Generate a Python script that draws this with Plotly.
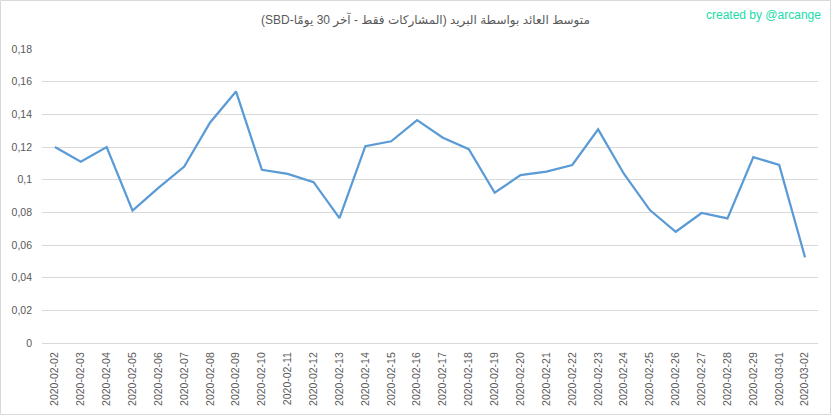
import plotly.graph_objects as go

dates = ["2020-02-02", "2020-02-03", "2020-02-04", "2020-02-05", "2020-02-06", "2020-02-07",
         "2020-02-08", "2020-02-09", "2020-02-10", "2020-02-11", "2020-02-12", "2020-02-13",
         "2020-02-14", "2020-02-15", "2020-02-16", "2020-02-17", "2020-02-18", "2020-02-19",
         "2020-02-20", "2020-02-21", "2020-02-22", "2020-02-23", "2020-02-24", "2020-02-25",
         "2020-02-26", "2020-02-27", "2020-02-28", "2020-02-29", "2020-03-01", "2020-03-02"]
values = [0.120, 0.111, 0.120, 0.081, 0.095, 0.108,
          0.135, 0.154, 0.106, 0.1035, 0.0985, 0.0765,
          0.1205, 0.1235, 0.1365, 0.1257, 0.1187, 0.092,
          0.1028, 0.1049, 0.109, 0.1308, 0.1035, 0.0814,
          0.0681, 0.0796, 0.0763, 0.1138, 0.109, 0.0524]
y_tickvals = [0, 0.02, 0.04, 0.06, 0.08, 0.10, 0.12, 0.14, 0.16, 0.18]
y_ticktext = ["0", "0,02", "0,04", "0,06", "0,08", "0,1", "0,12", "0,14", "0,16", "0,18"]

title_text = "متوسط العائد بواسطة البريد (المشاركات فقط - آخر 30 يومًا-SBD)"
watermark = "created by @arcange"

W, H = 833, 416
L, R, T, B = 42, 818, 49, 343

def px(x):
    return (x - L) / (R - L)

def py(y):
    return (B - y) / (B - T)

FONT = "Liberation Sans, Arial, DejaVu Sans, sans-serif"
GRAY = "#595959"

fig = go.Figure()
fig.add_trace(go.Scatter(
    x=dates, y=values, mode="lines",
    line=dict(color="#5B9BD5", width=2.25),
    hoverinfo="x+y",
))

fig.update_layout(
    width=W, height=H,
    margin=dict(l=L, r=W - R, t=T, b=H - B, pad=0, autoexpand=False),
    paper_bgcolor="white", plot_bgcolor="white",
    showlegend=False,
    font=dict(family=FONT, color=GRAY, size=10.5),
    xaxis=dict(
        type="category",
        range=[-0.5, len(dates) - 0.5],
        tickangle=-90,
        showgrid=False,
        showline=True, linecolor="#D9D9D9", linewidth=1,
        ticks="",
        tickfont=dict(size=10.5, color=GRAY),
        ticklabelstandoff=4,
        automargin=False,
    ),
    yaxis=dict(
        range=[0, 0.18],
        tickvals=y_tickvals, ticktext=y_ticktext,
        showgrid=True, gridcolor="#D9D9D9", gridwidth=1,
        zeroline=False, showline=False,
        ticks="",
        tickfont=dict(size=10.5, color=GRAY),
        ticklabelstandoff=9,
        automargin=False,
    ),
    shapes=[dict(
        type="rect", xref="paper", yref="paper",
        x0=px(0.5), x1=px(830.5), y0=py(414.5), y1=py(0.5),
        line=dict(color="#D9D9D9", width=1), fillcolor="rgba(0,0,0,0)",
        layer="above",
    )],
    annotations=[
        dict(text="\u202B" + title_text + "\u202C", xref="paper", yref="paper",
             x=px(425), y=py(20), xanchor="center", yanchor="middle",
             showarrow=False, font=dict(family=FONT, size=12, color=GRAY)),
        dict(text=watermark, xref="paper", yref="paper",
             x=px(823), y=py(15), xanchor="right", yanchor="middle",
             showarrow=False, font=dict(family=FONT, size=12, color="#20DCA8")),
    ],
)

fig.write_html("out.html", config={"displayModeBar": False},
               post_script="document.body.style.margin='0';document.body.style.padding='0';")
